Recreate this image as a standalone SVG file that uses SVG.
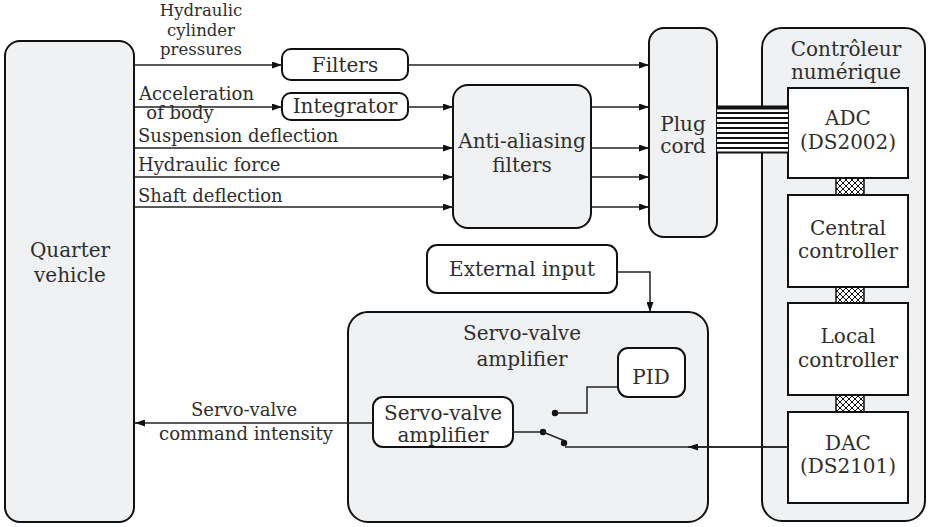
<svg xmlns="http://www.w3.org/2000/svg" width="930" height="527" viewBox="0 0 930 527">
  <defs>
    <style>
      text { font-family: "DejaVu Serif", "Noto Serif", "Liberation Serif", "Times New Roman", serif; fill: #2e2e2e; text-anchor: middle; }
      .node { font-size: 20px; }
      .lbl { font-size: 18px; }
      .lbl-s { font-size: 16.5px; }
      .lbl-l { font-size: 18px; text-anchor: start; }
      .panel { fill: #f0f1f3; stroke: #111; stroke-width: 2; }
      .box { fill: #fff; stroke: #111; stroke-width: 2; }
      .wire { fill: none; stroke: #222; stroke-width: 1.5; }
      .dot { fill: #111; }
    </style>
    <marker id="arrow" viewBox="0 0 10 7" refX="10" refY="3.5" markerWidth="11" markerHeight="7" markerUnits="userSpaceOnUse" orient="auto">
      <path d="M0,0 L10,3.5 L0,7 Z" fill="#111"/>
    </marker>
    <pattern id="hatch" width="6" height="6" patternUnits="userSpaceOnUse">
      <rect width="6" height="6" fill="#fff"/>
      <path d="M0,0 L6,6 M6,0 L0,6" stroke="#111" stroke-width="1"/>
    </pattern>
  </defs>

  <!-- Blocks -->
  <g id="quarter-vehicle">
    <rect class="panel" x="5" y="41" width="129" height="481" rx="15"/>
    <text class="node" x="70" y="257">Quarter</text>
    <text class="node" x="70" y="282">vehicle</text>
  </g>

  <g id="filters">
    <rect class="box" x="282" y="49" width="126" height="31" rx="9"/>
    <text class="node" x="345" y="72">Filters</text>
  </g>

  <g id="integrator">
    <rect class="box" x="282" y="93" width="126" height="27" rx="9"/>
    <text class="node" x="345" y="113">Integrator</text>
  </g>

  <g id="anti-aliasing">
    <rect class="panel" x="453" y="85" width="138" height="143" rx="15"/>
    <text class="node" x="522" y="148">Anti-aliasing</text>
    <text class="node" x="522" y="172">filters</text>
  </g>

  <g id="plug-cord">
    <rect class="panel" x="649" y="28" width="68" height="209" rx="15"/>
    <text class="node" x="683" y="131">Plug</text>
    <text class="node" x="683" y="153">cord</text>
  </g>

  <g id="digital-controller">
    <rect class="panel" x="762" y="28" width="163" height="493" rx="20"/>
    <text class="node" x="846" y="56">Contrôleur</text>
    <text class="node" x="846" y="79">numérique</text>
  </g>

  <!-- Bus links between controller cards -->
  <g id="buses">
    <rect x="836" y="178" width="28" height="17" fill="url(#hatch)" stroke="#111" stroke-width="1.5"/>
    <rect x="836" y="287" width="28" height="16" fill="url(#hatch)" stroke="#111" stroke-width="1.5"/>
    <rect x="836" y="395" width="28" height="17" fill="url(#hatch)" stroke="#111" stroke-width="1.5"/>
  </g>

  <g id="adc">
    <rect class="box" x="788" y="88" width="120" height="90"/>
    <text class="node" x="848" y="125">ADC</text>
    <text class="node" x="848" y="149">(DS2002)</text>
  </g>

  <g id="central-controller">
    <rect class="box" x="788" y="195" width="120" height="92"/>
    <text class="node" x="848" y="235">Central</text>
    <text class="node" x="848" y="258">controller</text>
  </g>

  <g id="local-controller">
    <rect class="box" x="788" y="303" width="120" height="92"/>
    <text class="node" x="848" y="343">Local</text>
    <text class="node" x="848" y="367">controller</text>
  </g>

  <g id="dac">
    <rect class="box" x="788" y="412" width="120" height="91"/>
    <text class="node" x="848" y="450">DAC</text>
    <text class="node" x="848" y="473">(DS2101)</text>
  </g>

  <!-- Multi-wire cable from plug cord to ADC -->
  <g id="cable">
    <rect x="717" y="107" width="71" height="46" fill="#fff"/>
    <path d="M717,108.5 H788 M717,113 H788 M717,118 H788 M717,123 H788 M717,128 H788 M717,133 H788 M717,138 H788 M717,143 H788 M717,148 H788 M717,152.5 H788" stroke="#111" stroke-width="2"/>
    <path d="M717,107 H788" stroke="#111" stroke-width="3"/>
  </g>

  <g id="external-input">
    <rect class="box" x="427" y="245" width="190" height="48" rx="10"/>
    <text class="node" x="522" y="276">External input</text>
  </g>

  <g id="servo-valve-amplifier">
    <rect class="panel" x="348" y="312" width="360" height="210" rx="20"/>
    <text class="node" x="522" y="340">Servo-valve</text>
    <text class="node" x="522" y="366">amplifier</text>
  </g>

  <g id="pid">
    <rect class="box" x="618" y="348" width="67" height="49" rx="10"/>
    <text class="node" x="651" y="384">PID</text>
  </g>

  <g id="servo-valve-stage">
    <rect class="box" x="373" y="397" width="140" height="50" rx="10"/>
    <text class="node" x="443" y="420">Servo-valve</text>
    <text class="node" x="443" y="442">amplifier</text>
  </g>

  <!-- Connectors -->
  <g id="connectors">
    <path class="wire" d="M135,65 H282" marker-end="url(#arrow)"/>
    <path class="wire" d="M408,65 H649" marker-end="url(#arrow)"/>
    <path class="wire" d="M135,107 H282" marker-end="url(#arrow)"/>
    <path class="wire" d="M408,107 H453" marker-end="url(#arrow)"/>
    <path class="wire" d="M135,148 H453" marker-end="url(#arrow)"/>
    <path class="wire" d="M135,177 H453" marker-end="url(#arrow)"/>
    <path class="wire" d="M135,207 H453" marker-end="url(#arrow)"/>
    <path class="wire" d="M591,107 H649" marker-end="url(#arrow)"/>
    <path class="wire" d="M591,148 H649" marker-end="url(#arrow)"/>
    <path class="wire" d="M591,177 H649" marker-end="url(#arrow)"/>
    <path class="wire" d="M591,207 H649" marker-end="url(#arrow)"/>

    <path class="wire" d="M617,272 H650 V312" marker-end="url(#arrow)"/>

    <path class="wire" d="M618,387 H587 V413 H555"/>
    <circle class="dot" cx="555" cy="413" r="3.2"/>
    <path class="wire" d="M513,432 H543"/>
    <circle class="dot" cx="543" cy="432" r="3.2"/>
    <path class="wire" d="M543,432 L565,441"/>
    <circle class="dot" cx="564" cy="443" r="3.2"/>
    <path class="wire" d="M788,447 H565"/>
    <path class="wire" d="M788,447 H688" marker-end="url(#arrow)"/>

    <path class="wire" d="M373,423 H135" marker-end="url(#arrow)"/>
  </g>

  <!-- Signal labels -->
  <g id="labels">
    <text class="lbl-s" x="201" y="16">Hydraulic</text>
    <text class="lbl-s" x="201" y="35.5">cylinder</text>
    <text class="lbl-s" x="201" y="55">pressures</text>
    <text class="lbl-l" x="139" y="100">Acceleration</text>
    <text class="lbl" x="180" y="119">of body</text>
    <text class="lbl-l" x="138" y="142">Suspension deflection</text>
    <text class="lbl-l" x="138" y="171">Hydraulic force</text>
    <text class="lbl-l" x="138" y="202">Shaft deflection</text>
    <text class="lbl" x="244" y="416">Servo-valve</text>
    <text class="lbl" x="246" y="440">command intensity</text>
  </g>
</svg>
